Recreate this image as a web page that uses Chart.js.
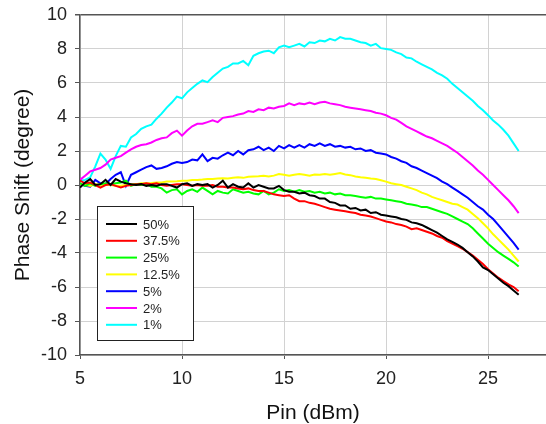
<!DOCTYPE html>
<html>
<head>
<meta charset="utf-8">
<script src="https://cdn.jsdelivr.net/npm/chart.js@4.4.1/dist/chart.umd.min.js"></script>
<style>
  html, body { margin: 0; padding: 0; background: #fff; }
  #fase { display: block; }
</style>
</head>
<body>
<div style="width:546px;height:424px;position:relative">
  <canvas id="fase" width="546" height="424"></canvas>
</div>
<script>
// Potencia de entrada (dBm)
const pin = [
  5, 5.25, 5.5, 5.75, 6, 6.25, 6.5, 6.75, 7, 7.25,
  7.5, 7.75, 8, 8.25, 8.5, 8.75, 9, 9.25, 9.5, 9.75,
  10, 10.25, 10.5, 10.75, 11, 11.25, 11.5, 11.75, 12, 12.25,
  12.5, 12.75, 13, 13.25, 13.5, 13.75, 14, 14.25, 14.5, 14.75,
  15, 15.25, 15.5, 15.75, 16, 16.25, 16.5, 16.75, 17, 17.25,
  17.5, 17.75, 18, 18.25, 18.5, 18.75, 19, 19.25, 19.5, 19.75,
  20, 20.25, 20.5, 20.75, 21, 21.25, 21.5, 21.75, 22, 22.25,
  22.5, 22.75, 23, 23.25, 23.5, 23.75, 24, 24.25, 24.5, 24.75,
  25, 25.25, 25.5, 25.75, 26, 26.25, 26.5
];

// Desfase (grados) para cada ciclo de trabajo
const fase50 = [
  -0.15, 0.15, 0.35, 0.0, 0.05, 0.3, 0.0, 0.35, 0.2, 0.1,
  0.05, 0.0, 0.05, -0.05, 0.0, -0.05, 0.05, 0.05, -0.05, -0.15,
  0.05, 0.1, -0.05, 0.05, 0.0, 0.05, -0.15, 0.0, 0.25, -0.15,
  0.05, -0.1, -0.15, 0.1, -0.15, 0.0, -0.1, -0.2, -0.2, -0.05,
  -0.3, -0.4, -0.4, -0.5, -0.45, -0.6, -0.65, -0.8, -0.8, -1.0,
  -1.05, -1.2, -1.2, -1.4, -1.35, -1.5, -1.45, -1.65, -1.6, -1.75,
  -1.8, -1.85, -1.9, -2.0, -2.05, -2.2, -2.25, -2.35, -2.5, -2.65,
  -2.8, -3.0, -3.2, -3.35, -3.5, -3.7, -3.95, -4.2, -4.5, -4.85,
  -5.0, -5.25, -5.5, -5.75, -5.95, -6.2, -6.45
];
const fase375 = [
  0.25, 0.1, 0.15, 0.0, -0.15, 0.0, 0.05, -0.05, -0.15, -0.05,
  0.0, 0.05, 0.05, 0.1, 0.05, 0.1, 0.0, -0.05, 0.0, 0.05,
  0.05, 0.0, -0.05, 0.0, -0.05, -0.05, 0.0, -0.1, -0.1, -0.15,
  -0.15, -0.2, -0.25, -0.2, -0.3, -0.35, -0.35, -0.45, -0.55, -0.6,
  -0.65, -0.6, -0.8, -0.95, -0.95, -1.05, -1.1, -1.2, -1.3, -1.4,
  -1.45, -1.5, -1.55, -1.6, -1.65, -1.75, -1.8, -1.85, -1.95, -2.05,
  -2.15, -2.2, -2.3, -2.35, -2.45, -2.6, -2.55, -2.65, -2.75, -2.85,
  -3.0, -3.1, -3.3, -3.45, -3.6, -3.75, -3.95, -4.15, -4.4, -4.65,
  -4.95, -5.2, -5.45, -5.65, -5.85, -6.0, -6.25
];
const fase25 = [
  0.1, -0.05, 0.1, -0.05, 0.05, 0.1, 0.05, 0.1, 0.15, 0.25,
  -0.05, 0.05, 0.0, 0.05, -0.1, -0.1, -0.2, -0.45, -0.3, -0.25,
  -0.55, -0.35, -0.25, -0.4, -0.15, -0.35, -0.55, -0.35, -0.45, -0.5,
  -0.25, -0.35, -0.45, -0.4, -0.5, -0.55, -0.35, -0.55, -0.45, -0.25,
  -0.35, -0.3, -0.4, -0.3, -0.4, -0.35, -0.45, -0.4, -0.5, -0.45,
  -0.55, -0.5, -0.6, -0.6, -0.65, -0.7, -0.75, -0.7, -0.8, -0.8,
  -0.85, -0.9, -0.95, -1.0, -1.1, -1.15, -1.2, -1.3, -1.3, -1.4,
  -1.5, -1.6, -1.7, -1.85, -2.0, -2.15, -2.3, -2.55, -2.85, -3.15,
  -3.45, -3.7, -3.95, -4.15, -4.35, -4.55, -4.8
];
const fase125 = [
  0.05, 0.0, -0.05, 0.05, 0.0, 0.05, 0.0, -0.05, -0.05, 0.0,
  0.05, 0.05, 0.1, 0.1, 0.12, 0.15, 0.15, 0.2, 0.2, 0.22,
  0.25, 0.25, 0.3, 0.3, 0.32, 0.35, 0.35, 0.38, 0.4, 0.38,
  0.42, 0.45, 0.42, 0.48, 0.5, 0.52, 0.55, 0.5, 0.55, 0.65,
  0.6, 0.55, 0.6, 0.65, 0.6, 0.55, 0.62, 0.6, 0.65, 0.6,
  0.65, 0.7, 0.62, 0.58, 0.5, 0.45, 0.42, 0.38, 0.35, 0.28,
  0.2, 0.1, 0.05, 0.0, -0.1, -0.2, -0.3, -0.45, -0.55, -0.7,
  -0.8, -0.9, -1.0, -1.1, -1.15, -1.3, -1.45, -1.7, -1.95, -2.25,
  -2.55, -2.9, -3.2, -3.5, -3.8, -4.15, -4.5
];
const fase5 = [
  0.05, -0.05, -0.1, 0.3, 0.1, 0.05, 0.35, 0.6, 0.75, -0.05,
  0.6, 0.75, 0.9, 1.05, 1.15, 0.95, 1.0, 1.1, 1.25, 1.35,
  1.3, 1.35, 1.5, 1.45, 1.8, 1.4, 1.6, 1.55, 1.75, 1.9,
  1.75, 2.0, 1.8, 2.05, 2.1, 2.25, 2.05, 2.2, 2.0, 2.3,
  2.15, 2.35, 2.2, 2.35, 2.2, 2.4, 2.3, 2.45, 2.3, 2.4,
  2.25, 2.3, 2.2, 2.25, 2.1, 2.15, 2.0, 2.05, 1.9, 1.85,
  1.8, 1.65, 1.55, 1.4, 1.3, 1.1, 1.0, 0.85, 0.7, 0.55,
  0.4, 0.2, 0.05, -0.15, -0.35, -0.55, -0.75, -1.0, -1.25, -1.45,
  -1.75, -2.0, -2.35, -2.7, -3.05, -3.4, -3.8
];
const fase2 = [
  0.3, 0.55, 0.8, 0.9, 1.0, 1.2, 1.5, 1.6, 1.7, 1.9,
  2.1, 2.25, 2.35, 2.4, 2.5, 2.65, 2.75, 2.8, 3.05, 3.2,
  2.9, 3.2, 3.45, 3.6, 3.6, 3.7, 3.8, 3.7, 3.95, 4.0,
  4.05, 4.15, 4.2, 4.35, 4.3, 4.45, 4.4, 4.55, 4.5, 4.6,
  4.65, 4.8, 4.7, 4.8, 4.75, 4.85, 4.75, 4.85, 4.9, 4.8,
  4.75, 4.7, 4.6, 4.55, 4.5, 4.45, 4.4, 4.35, 4.25, 4.2,
  4.1, 3.95, 3.85, 3.65, 3.45, 3.3, 3.15, 3.0, 2.85, 2.75,
  2.6, 2.45, 2.3, 2.1, 1.9, 1.65, 1.4, 1.15, 0.85, 0.6,
  0.3, 0.0, -0.3, -0.6, -0.9, -1.25, -1.65
];
const fase1 = [
  0.25, 0.3, 0.45, 1.1, 1.85, 1.5, 0.95, 1.7, 2.3, 2.25,
  2.8, 3.0, 3.3, 3.45, 3.55, 3.9, 4.2, 4.55, 4.85, 5.2,
  5.1, 5.45, 5.7, 5.95, 6.15, 6.05, 6.35, 6.6, 6.85, 6.95,
  7.15, 7.15, 7.3, 7.05, 7.6, 7.75, 7.85, 7.9, 7.75, 8.1,
  8.2, 8.1, 8.2, 8.3, 8.15, 8.4, 8.35, 8.5, 8.45, 8.6,
  8.5, 8.7, 8.6, 8.6, 8.5, 8.4, 8.35, 8.2, 8.3, 8.05,
  8.0, 7.95, 7.8, 7.7, 7.5, 7.45, 7.25, 7.1, 6.95, 6.8,
  6.6, 6.45, 6.25, 5.95, 5.7, 5.45, 5.2, 4.95, 4.65, 4.4,
  4.1, 3.8, 3.55, 3.25, 2.9, 2.45, 2.0
];

const series = ['50%', '37.5%', '25%', '12.5%', '5%', '2%', '1%'];
const valores = [fase50, fase375, fase25, fase125, fase5, fase2, fase1];
const colores = ['#000000', '#ff0000', '#00ff00', '#ffff00', '#0000ff', '#ff00ff', '#00ffff'];

const yTicks = [-10, -8, -6, -4, -2, 0, 2, 4, 6, 8, 10];
const xTicks = [5, 10, 15, 20, 25];

const fuente = "'Liberation Sans', Arial, sans-serif";

// leyenda con recuadro dentro del area del grafico
const leyendaCaja = {
  id: 'leyendaCaja',
  afterDraw(chart) {
    const ctx = chart.ctx;
    ctx.save();
    ctx.fillStyle = '#fff';
    ctx.fillRect(97.5, 206.5, 96, 134);
    ctx.strokeStyle = '#222';
    ctx.lineWidth = 1;
    ctx.strokeRect(97.5, 206.5, 96, 134);
    ctx.font = '13px ' + fuente;
    ctx.textBaseline = 'middle';
    chart.data.datasets.forEach((ds, i) => {
      const y = 224 + i * 16.8;
      ctx.strokeStyle = ds.borderColor;
      ctx.lineWidth = 2;
      ctx.beginPath();
      ctx.moveTo(106, y);
      ctx.lineTo(137, y);
      ctx.stroke();
      ctx.fillStyle = '#222';
      ctx.fillText(ds.label, 143, y + 1);
    });
    ctx.restore();
  }
};

const desfase = new Chart(
  document.getElementById('fase'), {
  type: 'line',
  data: {
    datasets: series.map((nombre, i) => ({
      label: nombre,
      data: pin.map((x, j) => ({ x: x, y: valores[i][j] })),
      borderColor: colores[i],
      backgroundColor: colores[i],
      borderWidth: 2,
      pointRadius: 0,
      tension: 0,
      fill: false
    }))
  },
  options: {
    responsive: false,
    animation: false,
    layout: { padding: { top: 15, right: 0, bottom: 0, left: 0 } },
    plugins: {
      legend: { display: false },
      tooltip: { enabled: false }
    },
    scales: {
      x: {
        type: 'linear',
        min: 5,
        max: 27.84,
        afterBuildTicks: s => { s.ticks = xTicks.map(v => ({ value: v })); },
        afterFit: s => { s.height = 69; },
        grid: { color: '#d2d2d2', lineWidth: 1, tickLength: 4, tickColor: '#555' },
        border: { color: '#555', width: 1.5 },
        ticks: { color: '#222', font: { family: fuente, size: 18 }, padding: 9, maxRotation: 0 },
        title: {
          display: true,
          text: 'Pin (dBm)',
          color: '#111',
          font: { family: fuente, size: 21, lineHeight: 1 },
          padding: { top: 0, bottom: 0 }
        }
      },
      y: {
        min: -10,
        max: 10,
        afterBuildTicks: s => { s.ticks = yTicks.map(v => ({ value: v })); },
        afterFit: s => {
          s.width = 80;
          s.paddingTop = 0;
          s.paddingBottom = 0;
        },
        grid: {
          color: c => c.tick && c.tick.value === 10 ? '#555' : '#d2d2d2',
          lineWidth: c => c.tick && c.tick.value === 10 ? 1.5 : 1,
          tickLength: 5,
          tickColor: '#555'
        },
        border: { color: '#555', width: 1.5 },
        ticks: { color: '#222', font: { family: fuente, size: 18 }, padding: 8 },
        title: {
          display: true,
          text: 'Phase Shift (degree)',
          color: '#111',
          font: { family: fuente, size: 21 },
          padding: { top: 11, bottom: 0 }
        }
      }
    }
  },
  plugins: [leyendaCaja]
});
</script>
</body>
</html>
